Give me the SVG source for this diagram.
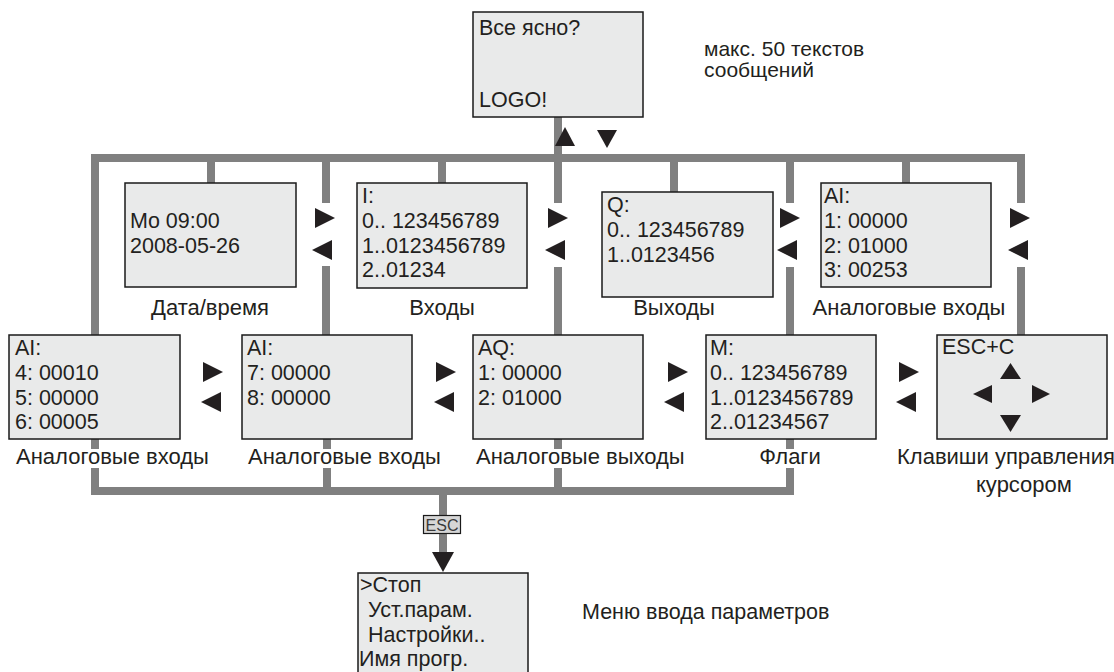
<svg xmlns="http://www.w3.org/2000/svg" width="1114" height="672" viewBox="0 0 1114 672">
<style>
.box{fill:#e9eaea;stroke:#1a1a1a;stroke-width:1.5}
.t{font-family:"Liberation Sans",Arial,sans-serif;font-size:21.5px;fill:#231f20}
.lb{font-size:22px}
.c{text-anchor:middle}
.ln{fill:none;stroke:#808080;stroke-width:8;stroke-linejoin:miter;stroke-linecap:butt}
.ah{fill:#231f20}
</style>
<defs>
<path id="ar" d="M0,0 L20,10 L0,20 Z"/>
<path id="al" d="M20,0 L0,10 L20,20 Z"/>
</defs>
<rect width="1114" height="672" fill="#ffffff"/>
<g id="connectors">
<path class="ln" d="M95,335 V158 H1021 V203"/>
<path class="ln" d="M1021,267 V335"/>
<path class="ln" d="M211,158 V183"/>
<path class="ln" d="M326,158 V203 M326,266 V335"/>
<path class="ln" d="M442,158 V183"/>
<path class="ln" d="M558,117 V203 M558,267 V335"/>
<path class="ln" d="M674,158 V192"/>
<path class="ln" d="M790,158 V203 M790,267 V335"/>
<path class="ln" d="M906,158 V183"/>
<path class="ln" d="M95,439 V449 M327,439 V449 M558,439 V449 M790,439 V449"/>
<path class="ln" d="M95,468 V491 H790 V468"/>
<path class="ln" d="M327,468 V491 M558,468 V491"/>
<path class="ln" d="M443,491 V515 M443,534 V553"/>
<path class="ah" d="M432,552 L454,552 L443,572 Z"/>
<rect x="423.5" y="515.5" width="37" height="18" fill="#d6d6d6" stroke="#1a1a1a" stroke-width="1.2"/>
<text class="t c" x="442" y="531" style="font-size:16px;fill:#3a3a3a">ESC</text>
<path class="ah" d="M555,146 L565,127 L575,146 Z"/>
<path class="ah" d="M597,130 L617,130 L607,148 Z"/>
<use href="#ar" class="ah" x="315" y="208"/><use href="#al" class="ah" x="312" y="240"/>
<use href="#ar" class="ah" x="548" y="208"/><use href="#al" class="ah" x="545" y="240"/>
<use href="#ar" class="ah" x="780" y="208"/><use href="#al" class="ah" x="777" y="240"/>
<use href="#ar" class="ah" x="1010" y="208"/><use href="#al" class="ah" x="1008" y="240"/>
<use href="#ar" class="ah" x="203" y="362"/><use href="#al" class="ah" x="201" y="392"/>
<use href="#ar" class="ah" x="436" y="362"/><use href="#al" class="ah" x="434" y="392"/>
<use href="#ar" class="ah" x="668" y="362"/><use href="#al" class="ah" x="664" y="392"/>
<use href="#ar" class="ah" x="899" y="362"/><use href="#al" class="ah" x="896" y="392"/>
</g>
<g id="n-logo">
<rect class="box" x="473" y="12" width="170" height="105"/>
<text class="t" x="479" y="35">Все ясно?</text>
<text class="t" x="479" y="107">LOGO!</text>
</g>
<g id="n-maks">
<text class="t" x="704" y="56" style="font-size:21px">макс. 50 текстов</text>
<text class="t" x="704" y="77" style="font-size:21px">сообщений</text>
</g>
<g id="n-date">
<rect class="box" x="125" y="183" width="171" height="104"/>
<text class="t" x="130" y="228">Mo 09:00</text>
<text class="t" x="130" y="253">2008-05-26</text>
<text class="t lb c" x="210" y="315">Дата/время</text>
</g>
<g id="n-inputs">
<rect class="box" x="357" y="183" width="170" height="105"/>
<text class="t" x="362" y="203">I:</text>
<text class="t" x="362" y="228">0.. 123456789</text>
<text class="t" x="362" y="253">1..0123456789</text>
<text class="t" x="362" y="277">2..01234</text>
<text class="t lb c" x="442" y="315">Входы</text>
</g>
<g id="n-outputs">
<rect class="box" x="602" y="192" width="171" height="105"/>
<text class="t" x="607" y="212">Q:</text>
<text class="t" x="607" y="237">0.. 123456789</text>
<text class="t" x="607" y="262">1..0123456</text>
<text class="t lb c" x="674" y="315">Выходы</text>
</g>
<g id="n-ai1">
<rect class="box" x="821" y="183" width="170" height="104"/>
<text class="t" x="824" y="203">AI:</text>
<text class="t" x="824" y="228">1: 00000</text>
<text class="t" x="824" y="253">2: 01000</text>
<text class="t" x="824" y="277">3: 00253</text>
<text class="t lb c" x="909" y="315">Аналоговые входы</text>
</g>
<g id="n-ai4">
<rect class="box" x="9" y="335" width="171" height="104"/>
<text class="t" x="15" y="355">AI:</text>
<text class="t" x="15" y="380">4: 00010</text>
<text class="t" x="15" y="405">5: 00000</text>
<text class="t" x="15" y="429">6: 00005</text>
<text class="t lb" x="16" y="464">Аналоговые входы</text>
</g>
<g id="n-ai7">
<rect class="box" x="242" y="335" width="170" height="104"/>
<text class="t" x="247" y="355">AI:</text>
<text class="t" x="247" y="380">7: 00000</text>
<text class="t" x="247" y="405">8: 00000</text>
<text class="t lb" x="248" y="464">Аналоговые входы</text>
</g>
<g id="n-aq">
<rect class="box" x="473" y="335" width="170" height="104"/>
<text class="t" x="478" y="355">AQ:</text>
<text class="t" x="478" y="380">1: 00000</text>
<text class="t" x="478" y="405">2: 01000</text>
<text class="t lb" x="476" y="464">Аналоговые выходы</text>
</g>
<g id="n-flags">
<rect class="box" x="706" y="335" width="170" height="104"/>
<text class="t" x="710" y="355">M:</text>
<text class="t" x="710" y="380">0.. 123456789</text>
<text class="t" x="710" y="405">1..0123456789</text>
<text class="t" x="710" y="429">2..01234567</text>
<text class="t lb c" x="790" y="464">Флаги</text>
</g>
<g id="n-cursor">
<rect class="box" x="937" y="335" width="170" height="104"/>
<text class="t" x="942" y="354">ESC+C</text>
<path class="ah" d="M1000,379 L1010.5,363 L1021,379 Z"/>
<path class="ah" d="M992,385 L973,394 L992,403 Z"/>
<path class="ah" d="M1032,385 L1050,394 L1032,403 Z"/>
<path class="ah" d="M1000,415 L1021,415 L1010.5,432 Z"/>
<text class="t lb" x="897" y="464">Клавиши управления</text>
<text class="t lb" x="976" y="492">курсором</text>
</g>
<g id="n-menu">
<rect class="box" x="358" y="573" width="170" height="105"/>
<text class="t" x="360" y="592">&gt;Стоп</text>
<text class="t" x="368" y="617">Уст.парам.</text>
<text class="t" x="368" y="642">Настройки..</text>
<text class="t" x="359" y="666">Имя прогр.</text>
<text class="t" x="582" y="619">Меню ввода параметров</text>
</g>
</svg>
